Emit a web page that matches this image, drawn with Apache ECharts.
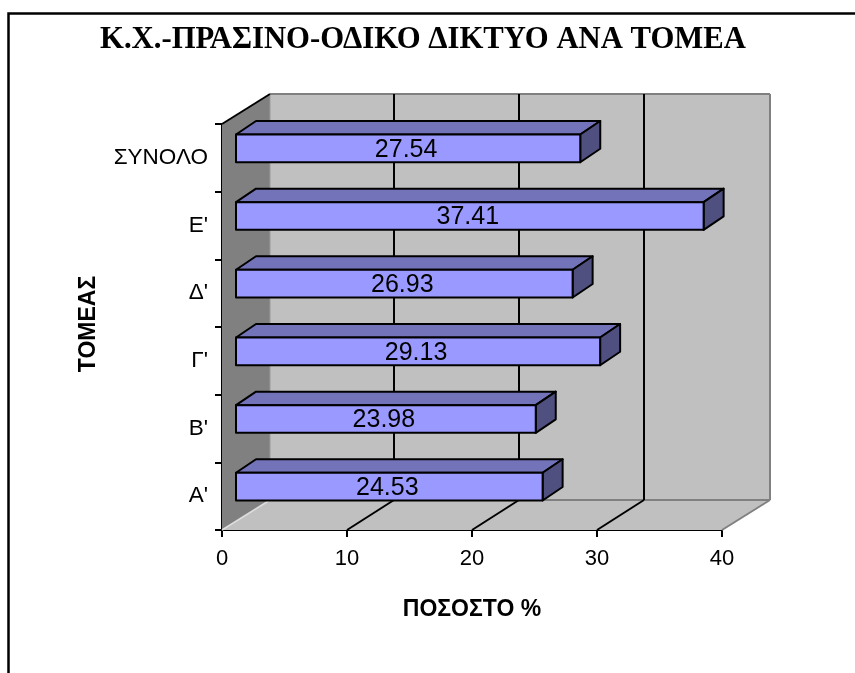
<!DOCTYPE html>
<html>
<head>
<meta charset="utf-8">
<style>html,body{margin:0;padding:0;background:#fff}#c{width:855px;height:673px}</style>
<script src="https://cdn.jsdelivr.net/npm/echarts@6/dist/echarts.min.js"></script>
</head>
<body>
<div id="c"></div>
<script>
const categories = ["Α'", "Β'", "Γ'", "Δ'", "Ε'", "ΣΥΝΟΛΟ"];
const values = [24.53, 23.98, 29.13, 26.93, 37.41, 27.54];
const xTicks = [0, 10, 20, 30, 40];
const titleText = "Κ.Χ.-ΠΡΑΣΙΝΟ-ΟΔΙΚΟ ΔΙΚΤΥΟ ΑΝΑ ΤΟΜΕΑ";
const xName = "ΠΟΣΟΣΤΟ %";
const yName = "ΤΟΜΕΑΣ";

const WALL_DX = 48, WALL_DY = -30;
const BAR_OFF_X = 14, BAR_OFF_Y = -9.5, BAR_DX = 20, BAR_DY = -13.5, BAR_FRAC = 0.41;
const AXIS_FONT = "Liberation Sans, Arial, sans-serif";

function poly(points, fill, stroke, lw) {
  return {type: 'polygon', shape: {points}, style: {fill, stroke: stroke || null, lineWidth: lw || 0, lineJoin: 'round'}};
}
function seg(x1, y1, x2, y2, stroke, lw) {
  return {type: 'line', shape: {x1, y1, x2, y2}, style: {stroke, lineWidth: lw}};
}

function renderWalls(params, api) {
  const r = params.coordSys;
  const L = r.x, R = r.x + r.width, T = r.y, B = r.y + r.height;
  const dx = WALL_DX, dy = WALL_DY;
  const kids = [
    poly([[L + dx, T + dy], [R + dx, T + dy], [R + dx, B + dy], [L + dx, B + dy]], '#c0c0c0'),
    poly([[L, T], [L + dx, T + dy], [L + dx, B + dy], [L, B]], '#808080'),
    poly([[L, B], [L + dx, B + dy], [R + dx, B + dy], [R, B]], '#c0c0c0'),
    seg(L + dx, T + dy, R + dx, T + dy, '#808080', 2),
    seg(R + dx, T + dy, R + dx, B + dy, '#808080', 2),
    seg(L + dx, B + dy, R + dx, B + dy, '#808080', 2),
    seg(L + dx, T + dy, L + dx, B + dy, '#999999', 1),
    seg(L, B, L + dx, B + dy, '#dddddd', 1.5),
    seg(R, B, R + dx, B + dy, '#808080', 2),
    seg(L, T, L + dx, T + dy, '#000000', 2)
  ];
  xTicks.forEach(function (v) {
    if (v === xTicks[0] || v === xTicks[xTicks.length - 1]) return;
    const x = api.coord([v, 0])[0];
    kids.push(seg(x + dx - 1, T + dy, x + dx - 1, B + dy, '#000000', 2));
    kids.push(seg(x, B, x + dx - 1, B + dy, '#000000', 2));
  });
  return {type: 'group', children: kids};
}

function renderBar(params, api) {
  const v = api.value(0), i = api.value(1);
  const p0 = api.coord([0, i]);
  const p1 = api.coord([v, i]);
  const h = api.size([0, 1])[1] * BAR_FRAC;
  const xa = p0[0] + BAR_OFF_X, xb = p1[0] + BAR_OFF_X;
  const yt = p0[1] + BAR_OFF_Y - h / 2, yb = yt + h;
  const dx = BAR_DX, dy = BAR_DY;
  return {type: 'group', children: [
    poly([[xa, yt], [xa + dx, yt + dy], [xb + dx, yt + dy], [xb, yt]], '#7373b9', '#000', 2),
    poly([[xb, yt], [xb + dx, yt + dy], [xb + dx, yb + dy], [xb, yb]], '#505080', '#000', 2),
    poly([[xa, yt], [xb, yt], [xb, yb], [xa, yb]], '#9999ff', '#000', 2),
    {type: 'text', x: (xa + xb) / 2 - 2, y: (yt + yb) / 2 + 1.5, style: {
      text: v.toFixed(2), fill: '#000', font: '25px ' + AXIS_FONT, align: 'center', verticalAlign: 'middle'}}
  ]};
}

const chart = echarts.init(document.getElementById('c'), null, {renderer: 'canvas'});
chart.setOption({
  animation: false,
  backgroundColor: '#ffffff',
  title: {
    text: titleText, left: 418, top: 20, textAlign: 'center',
    textStyle: {fontFamily: 'Liberation Serif, Times New Roman, serif', fontWeight: 'bold', fontSize: 30.7, color: '#000'}
  },
  grid: {left: 222, top: 124, width: 500, height: 406},
  xAxis: {
    type: 'value', min: 0, max: 40, interval: 10,
    name: xName, nameLocation: 'middle', nameGap: 68,
    nameTextStyle: {fontFamily: AXIS_FONT, fontWeight: 'bold', fontSize: 23, color: '#000'},
    axisLine: {show: true, onZero: false, lineStyle: {color: '#000', width: 2}},
    axisTick: {show: true, length: 7, lineStyle: {color: '#000', width: 2}},
    axisLabel: {color: '#000', fontFamily: AXIS_FONT, fontSize: 22, margin: 18},
    splitLine: {show: false}
  },
  yAxis: {
    type: 'category', data: categories,
    name: yName, nameLocation: 'middle', nameGap: 122, nameRotate: 90,
    nameTextStyle: {fontFamily: AXIS_FONT, fontWeight: 'bold', fontSize: 23, color: '#000', padding: [0, 0, 0, 6]},
    axisLine: {show: true, lineStyle: {color: '#000', width: 2}},
    axisTick: {show: true, length: 7, alignWithLabel: false, lineStyle: {color: '#000', width: 2}},
    axisLabel: {color: '#000', fontFamily: AXIS_FONT, fontSize: 22.5, margin: 14, padding: [2, 0, 0, 0]},
    splitLine: {show: false}
  },
  graphic: [{
    type: 'polyline', silent: true, z: 100,
    shape: {points: [[8.5, 673], [8.5, 13.5], [855, 13.5]]},
    style: {stroke: '#000', lineWidth: 2.5, fill: null}
  }],
  series: [
    {type: 'custom', coordinateSystem: 'cartesian2d', renderItem: renderWalls, data: [[0, 0]], z: 1, silent: true, clip: false},
    {type: 'custom', coordinateSystem: 'cartesian2d', renderItem: renderBar,
      encode: {x: 0, y: 1}, data: values.map(function (v, i) { return [v, i]; }), z: 2, silent: true, clip: false}
  ]
});
</script>
</body>
</html>
